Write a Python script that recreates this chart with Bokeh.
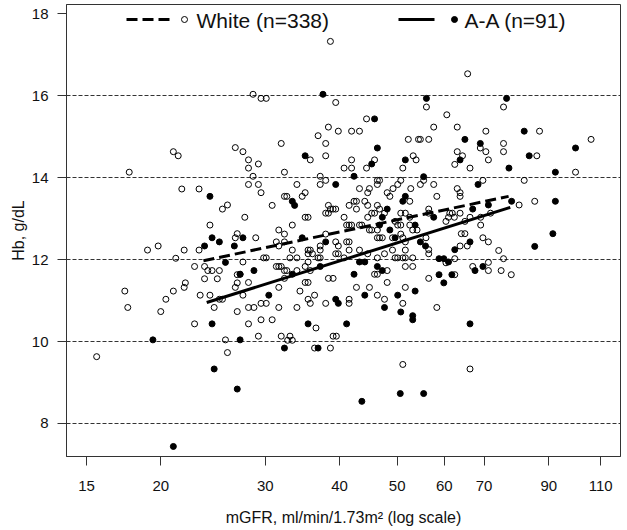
from bokeh.plotting import figure
from bokeh.models import FixedTicker, Range1d, LinearScale, PrintfTickFormatter
from bokeh.core.properties import value
from bokeh.embed import file_html
from bokeh.resources import INLINE

FONT = "Liberation Sans"

# ---------------- data ----------------
x_ticks = [15, 20, 30, 40, 50, 60, 70, 90, 110]
y_ticks = [8, 10, 12, 14, 16, 18]
grid_levels = [8, 10, 12, 14, 16]

white_label = "White (n=338)"
aa_label = "A-A (n=91)"

white_gfr = [
    17.7, 21.0, 21.4, 26.7, 21.7, 23.2, 25.4, 25.9, 24.2, 26.9, 26.7, 19.0, 19.8, 21.9, 23.2,
    21.2, 22.8, 23.7, 24.0, 24.4, 25.1, 26.9, 23.7, 24.9, 22.0, 21.9, 26.9, 26.7, 17.4, 21.0,
    23.3, 24.2, 20.4, 25.1, 25.4, 17.6, 24.6, 26.9, 20.0, 22.8, 25.7, 15.6, 25.9,
    29.2, 31.9, 33.0, 32.7, 33.3, 36.3, 38.6, 39.0, 39.5, 51.1, 66.3,
    38.6, 28.6, 29.5, 30.1, 39.4, 44.4, 38.3, 39.8, 41.9, 43.2, 36.8, 31.9, 37.9, 27.5, 52.2,
    54.3, 35.7, 37.9, 28.1, 29.2, 28.1, 28.6, 32.3, 41.9, 40.7, 41.9, 45.8, 44.4, 53.2, 53.8,
    51.1, 37.1, 37.9, 37.1, 33.9, 29.2, 28.1, 46.3, 46.7, 46.3, 50.7, 50.1, 49.2, 54.7, 55.4,
    52.7, 43.2, 44.9,
    65.7, 56.0, 75.5, 60.6, 57.6, 63.1, 70.5, 86.8, 54.7, 56.5, 69.0, 75.5, 106.0, 63.1, 70.5,
    75.5, 64.4, 71.2, 85.9, 62.5, 66.3, 99.8, 57.6, 63.1, 69.7, 81.8,
    58.3, 63.8, 63.8, 56.5, 56.5, 61.3, 61.9, 60.4, 61.0, 62.4, 63.8, 66.3, 71.8, 69.1, 65.0,
    69.1, 80.2, 85.2, 64.1, 65.0, 69.7, 71.2, 65.6, 63.8, 56.5, 56.5, 55.9, 60.4, 62.5, 74.1,
    75.5, 71.2, 67.0, 71.2, 74.8, 77.8, 62.5, 56.5, 58.3,
    29.5, 32.3, 32.6, 34.6, 35.0, 44.6, 48.1, 48.6, 52.5, 30.8, 38.3, 38.6, 39.0, 39.4, 37.9,
    38.3, 41.5, 42.3, 42.7, 42.7, 44.1, 44.6, 46.3, 46.7, 47.6, 45.3, 45.8, 50.7, 51.6, 52.5,
    35.0, 35.4, 40.7, 44.6, 27.7, 31.6, 33.3, 41.1, 41.5, 41.9, 43.2, 43.6, 49.6, 50.1, 50.7,
    52.5, 44.9, 45.3, 46.3, 32.3, 37.9, 54.0, 53.1, 28.9, 31.3, 32.3, 31.6, 33.3, 37.1, 37.1,
    39.4, 39.8, 41.1, 41.5, 46.3, 46.7, 47.2, 49.1, 50.7, 51.1, 51.6, 35.4, 35.7, 35.4, 36.0,
    39.4, 39.8, 41.5, 43.2, 44.6, 47.6, 49.1, 51.6, 27.5, 29.8, 30.1, 33.0, 33.9, 35.4, 36.8,
    37.1, 40.7, 46.3, 49.6, 50.1, 51.1, 51.6, 53.1, 48.1, 51.6, 53.1, 27.2, 31.3, 31.6, 31.9,
    32.3, 32.6, 35.0, 35.7, 33.9, 38.3, 39.0, 45.8, 46.3, 28.1, 32.3, 31.6, 34.3, 35.4, 35.0,
    42.7, 44.9, 48.1, 51.6, 46.3, 47.6, 27.5, 36.3, 35.4, 35.7, 41.5, 41.5, 37.9, 28.1, 28.7,
    29.5, 30.1, 31.6, 33.9, 51.1, 29.5, 30.8, 28.1, 36.5,
]
white_hb = [
    14.13, 14.63, 14.53, 14.73, 13.72, 13.72, 13.23, 13.33, 12.84, 12.63, 12.53, 12.23, 12.33, 12.23, 12.23,
    12.03, 11.83, 11.83, 11.73, 11.73, 11.73, 11.63, 11.53, 11.53, 11.43, 11.32, 11.43, 11.32, 11.23, 11.23,
    11.13, 11.13, 11.03, 11.03, 11.03, 10.83, 10.83, 10.73, 10.73, 10.43, 10.04, 9.63, 9.73,
    10.13, 10.13, 10.13, 10.03, 10.03, 9.84, 9.84, 10.13, 10.13, 9.44, 9.33,
    17.32, 16.03, 15.93, 15.93, 15.83, 15.43, 15.23, 15.13, 15.13, 15.13, 15.02, 14.83, 14.83, 14.63, 14.93,
    14.93, 14.43, 14.53, 14.43, 14.33, 14.23, 14.03, 14.13, 14.43, 14.23, 14.23, 14.43, 14.23, 14.53, 14.43,
    14.23, 14.03, 13.93, 13.83, 13.83, 13.83, 13.83, 13.93, 13.93, 13.83, 13.93, 13.83, 13.73, 13.83, 13.93,
    13.73, 13.73, 13.73,
    16.53, 15.72, 15.72, 15.53, 15.23, 15.23, 15.13, 15.13, 14.93, 14.93, 14.72, 14.83, 14.93, 14.63, 14.63,
    14.63, 14.53, 14.43, 14.53, 14.32, 14.23, 14.13, 13.83, 13.73, 13.93, 13.93,
    13.54, 13.63, 13.54, 13.13, 13.23, 13.13, 13.13, 12.93, 13.03, 13.03, 13.13, 13.03, 13.13, 13.03, 12.93,
    12.84, 13.33, 13.42, 12.63, 12.63, 12.53, 12.43, 12.33, 12.33, 12.24, 12.14, 12.53, 11.92, 12.02, 12.22,
    12.02, 11.93, 11.83, 11.73, 11.73, 11.63, 11.63, 11.54, 10.83,
    13.63, 13.54, 13.54, 13.54, 13.63, 13.63, 13.63, 13.54, 13.42, 13.32, 13.32, 13.23, 13.23, 13.23, 13.13,
    13.13, 13.32, 13.42, 13.42, 13.23, 13.42, 13.32, 13.32, 13.23, 13.13, 13.13, 13.13, 13.13, 13.13, 13.03,
    13.03, 13.03, 13.03, 13.03, 13.03, 12.72, 12.84, 12.84, 12.84, 12.84, 12.84, 12.84, 12.93, 12.84, 12.84,
    12.84, 12.72, 12.72, 12.72, 12.62, 12.62, 12.72, 12.72, 12.53, 12.43, 12.43, 12.33, 12.23, 12.33, 12.23,
    12.43, 12.33, 12.43, 12.43, 12.53, 12.53, 12.53, 12.53, 12.62, 12.53, 12.43, 12.23, 12.23, 12.14, 12.14,
    12.14, 12.14, 12.23, 12.23, 12.14, 12.14, 12.23, 12.23, 11.94, 12.04, 12.04, 12.04, 12.04, 11.94, 12.04,
    12.04, 12.04, 12.04, 12.04, 12.04, 12.04, 12.04, 12.04, 11.73, 11.83, 11.83, 11.64, 11.83, 11.83, 11.83,
    11.73, 11.73, 11.83, 11.73, 11.73, 11.54, 11.54, 11.64, 11.64, 11.44, 11.54, 11.32, 11.23, 11.44, 11.44,
    11.32, 11.32, 11.44, 11.32, 11.13, 11.03, 11.13, 11.13, 11.03, 10.93, 11.03, 10.93, 10.93, 10.83, 10.83,
    10.93, 10.93, 10.83, 10.83, 10.93, 10.53, 10.53, 10.43, 10.33,
]

aa_gfr = [
    24.2, 24.4, 25.1, 23.7, 26.6, 25.7, 24.4, 19.4, 27.2, 24.6, 26.9, 21.0, 32.3, 36.8, 43.6,
    50.6, 55.4, 37.5, 56.0, 76.4, 45.8, 81.8, 65.0, 69.0, 99.8, 63.8, 83.4, 77.1, 92.3, 55.4,
    68.4, 46.3, 35.0, 45.3, 51.6, 42.3, 39.4, 57.6, 67.0, 71.2, 77.9, 92.3, 66.3, 62.5, 55.8,
    54.7, 58.8, 59.9, 61.0, 67.6, 69.7, 58.8, 61.8, 59.9, 66.3, 85.2, 91.4, 33.3, 33.6, 51.6,
    51.1, 48.1, 47.2, 46.7, 48.6, 53.6, 49.6, 27.5, 34.6, 37.9, 43.2, 44.1, 46.3, 47.2, 28.7,
    27.2, 33.3, 37.1, 42.3, 50.1, 53.6, 44.1, 30.4, 39.4, 39.8, 47.6, 50.7, 53.1, 53.1, 35.4,
    41.1,
]
aa_hb = [
    13.54, 12.53, 12.43, 12.33, 12.33, 11.93, 10.43, 10.04, 10.04, 9.33, 8.84, 7.44, 9.84, 9.84, 8.54,
    8.73, 8.73, 16.03, 15.93, 15.93, 15.43, 15.13, 14.93, 14.83, 14.72, 14.43, 14.53, 14.23, 14.13, 14.02,
    13.83, 14.72, 14.53, 14.33, 14.43, 14.03, 13.83, 13.03, 13.23, 13.33, 13.42, 13.42, 12.43, 12.24, 12.33,
    12.43, 12.02, 12.02, 11.94, 11.73, 11.83, 11.63, 11.63, 11.43, 10.43, 12.32, 12.63, 13.42, 13.32, 13.54,
    13.42, 13.23, 13.03, 12.84, 12.72, 12.84, 12.53, 12.53, 12.53, 12.43, 11.94, 11.94, 11.83, 11.73, 11.73,
    11.64, 11.64, 11.83, 11.64, 11.13, 11.23, 11.13, 11.13, 11.03, 10.93, 10.83, 10.72, 10.63, 10.53, 10.43,
    10.43,
]

# fitted regression lines (end points)
white_fit_gfr = [23.6, 77.0]
white_fit_hb = [11.97, 13.54]
aa_fit_gfr = [23.9, 77.5]
aa_fit_hb = [10.95, 13.27]

# ---------------- figure ----------------
W, H = 627, 530
p = figure(width=W, height=H, x_axis_type="log",
           x_range=Range1d(13.88, 118.8), y_range=Range1d(7.195, 18.22),
           output_backend="svg", toolbar_location=None,
           min_border_left=66, min_border_right=7, min_border_top=4, min_border_bottom=74,
           background_fill_color="white", border_fill_color="white")

p.outline_line_color = "#333333"
p.outline_line_width = 1

p.xgrid.visible = False
p.ygrid.ticker = FixedTicker(ticks=grid_levels)
p.ygrid.grid_line_color = "#333333"
p.ygrid.grid_line_dash = "4 2"
p.ygrid.grid_line_width = 1

p.xaxis.ticker = FixedTicker(ticks=x_ticks)
p.xaxis.formatter = PrintfTickFormatter(format="%d")
p.yaxis.ticker = FixedTicker(ticks=y_ticks)
p.yaxis.formatter = PrintfTickFormatter(format="%d")

for ax in (p.xaxis[0], p.yaxis[0]):
    ax.axis_line_color = "#333333"
    ax.major_tick_line_color = "#333333"
    ax.major_tick_out = 9
    ax.major_tick_in = 0
    ax.minor_tick_line_color = None
    ax.major_label_text_font = FONT
    ax.major_label_text_font_size = "15px"
    ax.major_label_text_color = "#111111"
    ax.axis_label_text_font = FONT
    ax.axis_label_text_font_size = "16px"
    ax.axis_label_text_font_style = "normal"
    ax.axis_label_text_color = "#111111"

p.xaxis.axis_label = "mGFR, ml/min/1.73m\u00b2 (log scale)"
p.xaxis.major_label_standoff = 15
p.xaxis.axis_label_standoff = 15
p.yaxis.axis_label = "Hb, g/dL"
p.yaxis.major_label_standoff = 9
p.yaxis.axis_label_standoff = 2

# points
p.scatter(white_gfr, white_hb, marker="circle", size=6, fill_alpha=0,
          line_color="black", line_width=1)
p.scatter(aa_gfr, aa_hb, marker="circle", size=6, fill_color="black",
          line_color="black", line_width=1)

# regression lines
p.line(white_fit_gfr, white_fit_hb, line_color="black", line_width=3, line_dash="11 5")
p.line(aa_fit_gfr, aa_fit_hb, line_color="black", line_width=3)

# ---------------- legend (drawn in page-pixel units) ----------------
p.extra_x_ranges = {"lx": Range1d(66, 620)}
p.extra_y_ranges = {"ly": Range1d(456, 4)}
p.extra_x_scales = {"lx": LinearScale()}
p.extra_y_scales = {"ly": LinearScale()}

LY = 19
p.line([126, 172], [LY, LY], x_range_name="lx", y_range_name="ly",
       line_color="black", line_width=3, line_dash="11 5")
p.scatter([184], [LY], x_range_name="lx", y_range_name="ly", marker="circle", size=6,
          fill_alpha=0, line_color="black", line_width=1)
p.text([196], [LY + 1], text=[white_label], x_range_name="lx", y_range_name="ly",
       text_font=value(FONT), text_font_size="21px", text_baseline="middle", text_color="#111111")

p.line([398, 434], [LY, LY], x_range_name="lx", y_range_name="ly",
       line_color="black", line_width=3)
p.scatter([454], [LY], x_range_name="lx", y_range_name="ly", marker="circle", size=6,
          fill_color="black", line_color="black")
p.text([464], [LY + 1], text=[aa_label], x_range_name="lx", y_range_name="ly",
       text_font=value(FONT), text_font_size="21px", text_baseline="middle", text_color="#111111")

open("out.html", "w").write(file_html(p, INLINE))
